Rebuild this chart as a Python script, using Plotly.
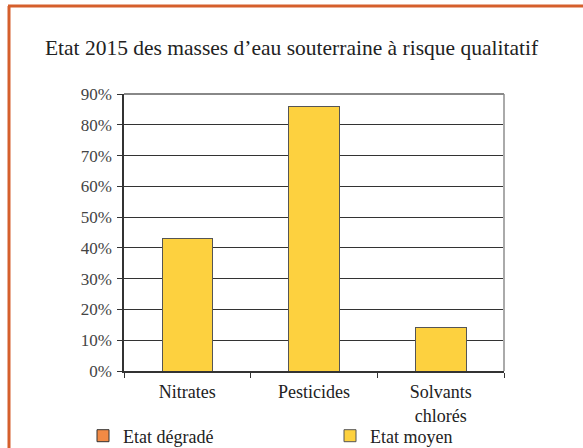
import plotly.graph_objects as go

categories = ["Nitrates", "Pesticides", "Solvants<br>chlorés"]
etat_degrade = [0, 0, 0]
etat_moyen = [43, 86, 14]
y_ticks = [0, 10, 20, 30, 40, 50, 60, 70, 80, 90]
y_tick_labels = [f"{v}%" for v in y_ticks]

W, H = 583, 448
L, R, T, B = 124, 79, 94, 77
pw = W - L - R
ph = H - T - B

def px(x):
    return (x - L) / pw

def py(y):
    return (H - B - y) / ph

fig = go.Figure()
fig.add_trace(go.Bar(x=categories, y=etat_degrade, name="Etat dégradé", legend="legend",
                     marker=dict(color="#F28A45", line=dict(color="#333333", width=1))))
fig.add_trace(go.Bar(x=categories, y=etat_moyen, name="Etat moyen", legend="legend2",
                     marker=dict(color="#FDD13F", line=dict(color="#555555", width=1))))

legend_font = dict(family="Liberation Serif", size=18, color="#222222")
fig.update_layout(
    width=W, height=H,
    margin=dict(l=L, r=R, t=T, b=B, autoexpand=False),
    barmode="stack",
    bargap=0.6,
    paper_bgcolor="white",
    plot_bgcolor="white",
    font=dict(family="Liberation Serif", size=17, color="#222222"),
    title=dict(text="Etat 2015 des masses d’eau souterraine à risque qualitatif",
               x=0.5, xanchor="center", y=1 - 47 / H, yanchor="middle",
               font=dict(family="Liberation Serif", size=21.5, color="#222222")),
    showlegend=True,
    legend=dict(orientation="h", x=px(83), xanchor="left", y=py(436), yanchor="middle",
                itemwidth=30, font=legend_font, bgcolor="rgba(0,0,0,0)"),
    legend2=dict(orientation="h", x=px(330), xanchor="left", y=py(436), yanchor="middle",
                 itemwidth=30, font=legend_font, bgcolor="rgba(0,0,0,0)"),
    xaxis=dict(showline=True, linecolor="#333333", linewidth=1.5, mirror=False,
               ticks="outside", tickson="boundaries", ticklen=5, tickcolor="#333333",
               showgrid=False, ticklabelstandoff=4,
               tickfont=dict(family="Liberation Serif", size=18, color="#222222")),
    yaxis=dict(range=[0, 90], tickvals=y_ticks, ticktext=y_tick_labels,
               showline=True, linecolor="#333333", linewidth=1.5,
               ticks="outside", ticklen=5, tickcolor="#333333",
               showgrid=True, gridcolor="#333333", gridwidth=1,
               zeroline=False, ticklabelstandoff=2,
               tickfont=dict(family="Liberation Serif", size=17, color="#444444")),
)

# right and top plot border (light gray)
fig.add_shape(type="line", xref="paper", yref="paper", x0=1, x1=1, y0=0, y1=1,
              line=dict(color="#AAAAAA", width=2))
fig.add_shape(type="line", xref="paper", yref="paper", x0=0, x1=1, y0=1, y1=1,
              line=dict(color="#888888", width=2))
# orange frame (left and top edges)
fig.add_shape(type="line", xref="paper", yref="paper", x0=px(9), x1=px(9), y0=py(6), y1=py(460),
              line=dict(color="#D55F2C", width=3))
fig.add_shape(type="line", xref="paper", yref="paper", x0=px(8), x1=px(600), y0=py(6), y1=py(6),
              line=dict(color="#D55F2C", width=3))

fig.write_html("out.html", config={"displayModeBar": False},
               post_script="document.body.style.margin='0px';")
